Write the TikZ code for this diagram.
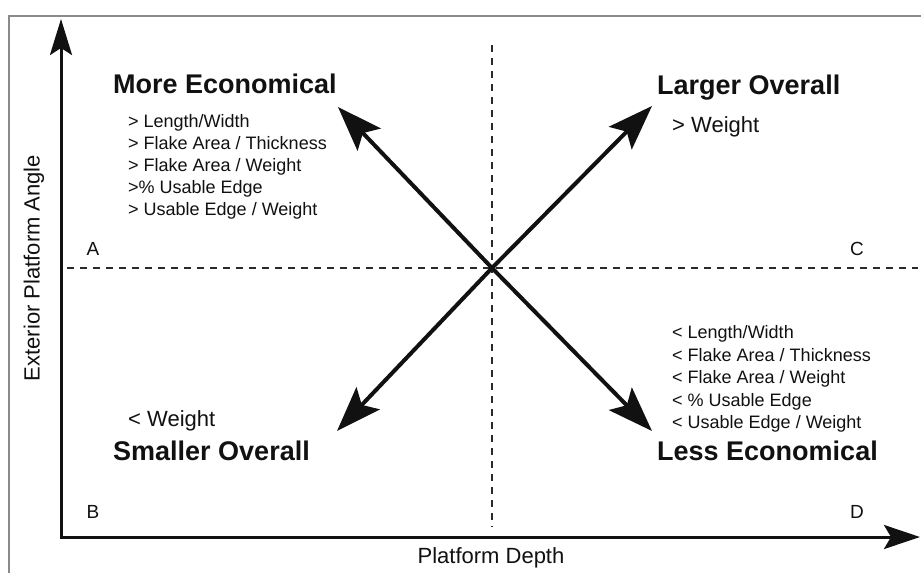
\documentclass[tikz,border=0pt]{standalone}
\usepackage{fontspec}
\setmainfont{Liberation Sans}
\usetikzlibrary{arrows.meta}
\definecolor{framegray}{HTML}{8A8A8A}
\definecolor{dashgray}{HTML}{2A2A2A}
\definecolor{ink}{HTML}{111111}
\begin{document}
\begin{tikzpicture}[x=1pt,y=-1pt,
  frameline/.style={draw=framegray,line width=1.6pt},
  axisline/.style={draw=ink,line width=3pt,{Stealth[length=36pt,width=22pt,inset=7pt]}-{Stealth[length=36pt,width=24pt,inset=7pt]}},
  guide/.style={draw=dashgray,line width=2.5pt,dash pattern=on 7pt off 6pt},
  diag/.style={draw=ink,line width=4pt,-{Stealth[length=45pt,width=32pt,inset=9pt]}},
  title/.style={anchor=base west,inner sep=0pt,text=ink,font=\fontsize{27}{30}\selectfont\bfseries},
  item/.style={anchor=base west,inner sep=0pt,text=ink,font=\fontsize{18}{21}\selectfont},
  bigitem/.style={anchor=base west,inner sep=0pt,text=ink,font=\fontsize{22}{26}\selectfont},
  corner/.style={anchor=base,inner sep=0pt,text=ink,font=\fontsize{19}{22}\selectfont},
  axislabel/.style={inner sep=0pt,text=ink,font=\fontsize{22}{26}\selectfont}]
\useasboundingbox (0,0) rectangle (921,573);
\fill[white] (0,0) rectangle (921,573);
% frame
\coordinate (f1) at (921,16);
\coordinate (f2) at (9,16);
\coordinate (f3) at (9,573);
\draw[frameline] (f1) -- (f2) -- (f3);
% dashed guides
\coordinate (vt) at (492,45);
\coordinate (vb) at (492,527);
\coordinate (hl) at (67,268);
\coordinate (hr) at (918,268);
\draw[guide] (vt) -- (vb);
\draw[guide] (hl) -- (hr);
% axes
\coordinate (ytip) at (61,19);
\coordinate (orig) at (61,537);
\coordinate (xtip) at (920,537);
\draw[axisline] (ytip) -- (orig) -- (xtip);
% diagonal arrows
\coordinate (c) at (492,268);
\coordinate (ul) at (338,107);
\coordinate (ur) at (652,106);
\coordinate (ll) at (337,431);
\coordinate (lr) at (652,431);
\draw[diag] (c) -- (ul);
\draw[diag] (c) -- (ur);
\draw[diag] (c) -- (ll);
\draw[diag] (c) -- (lr);
% upper left
\node[title] (tme) at (113,93) {More Economical};
\node[item] (m1) at (128,127.5) {> Length/Width};
\node[item] (m2) at (128,149.5) {> Flake Area / Thickness};
\node[item] (m3) at (128,171.5) {> Flake Area / Weight};
\node[item] (m4) at (128,193.5) {>\% Usable Edge};
\node[item] (m5) at (128,215.5) {> Usable Edge / Weight};
% upper right
\node[title] (tlo) at (657,94) {Larger Overall};
\node[bigitem] (lw) at (672,132) {> Weight};
% lower right
\node[item] (l1) at (672,338.5) {< Length/Width};
\node[item] (l2) at (672,361) {< Flake Area / Thickness};
\node[item] (l3) at (672,383.5) {< Flake Area / Weight};
\node[item] (l4) at (672,406) {< \% Usable Edge};
\node[item] (l5) at (672,428.5) {< Usable Edge / Weight};
\node[title] (tle) at (657,460) {Less Economical};
% lower left
\node[bigitem] (sw) at (128,426) {< Weight};
\node[title] (tso) at (113,460) {Smaller Overall};
% corners
\node[corner] (qa) at (93,255) {A};
\node[corner] (qc) at (857,255) {C};
\node[corner] (qb) at (93,518) {B};
\node[corner] (qd) at (857,518) {D};
% axis labels
\node[axislabel] (xl) at (491,558) {Platform Depth};
\node[axislabel,rotate=90] (yl) at (34,268) {Exterior Platform Angle};
\end{tikzpicture}
\end{document}
